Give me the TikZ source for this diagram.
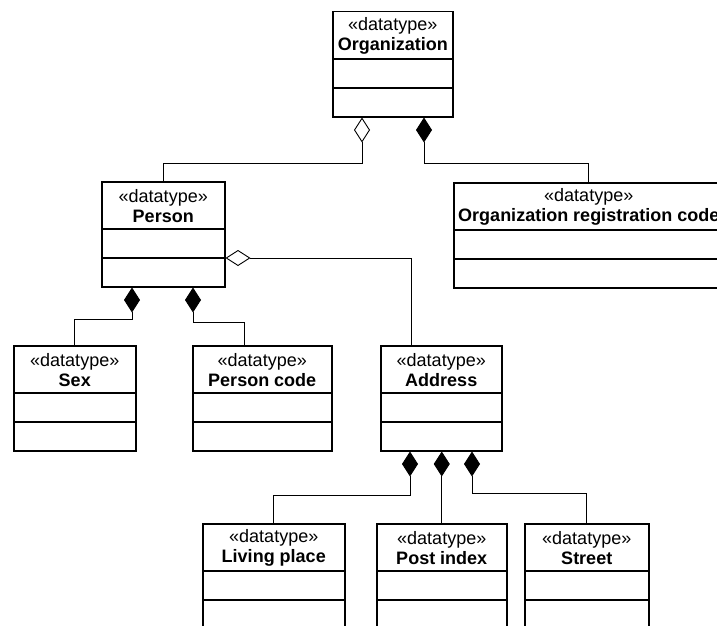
\documentclass[tikz,border=0pt]{standalone}
\usepackage{fontspec}
\setmainfont{Liberation Sans}
\usetikzlibrary{arrows.meta,calc}
\tikzset{
  dtframe/.style={draw=black, line width=1.5pt, fill=white, anchor=north west,
    minimum height=105pt, inner sep=0pt},
  dttitle/.style={align=center, inner sep=0pt, font=\fontsize{18}{20}\selectfont},
  link/.style={draw=black, line width=0.9pt},
  aggr/.style={link, {Diamond[open,length=25pt,width=16pt]}-},
  comp/.style={link, {Diamond[length=25pt,width=16pt]}-},
}
% datatype class box: name, x, y (top left), width, title
\newcommand\dtbox[5]{%
  \node[dtframe, minimum width=#4pt] (#1) at (#2,#3) {};
  \node[dttitle] (#1-title) at ($(#1.north)+(0,25)$) {«datatype»\\\textbf{#5}};
  \draw[line width=1.5pt] ([yshift=-48pt]#1.north west) -- ([yshift=-48pt]#1.north east);
  \draw[line width=1.5pt] ([yshift=-77pt]#1.north west) -- ([yshift=-77pt]#1.north east);
}
\begin{document}
\begin{tikzpicture}[x=1pt,y=-1pt]
  \clip (0,0) rectangle (717,626);
  \useasboundingbox (0,0) rectangle (717,626);
  \fill[white] (0,0) rectangle (717,626);

  \dtbox{org}{332}{11}{120}{Organization}
  \dtbox{orgreg}{453}{182}{270}{Organization registration code}
  \dtbox{person}{101}{181}{123}{Person}
  \dtbox{sex}{13}{345}{122}{Sex}
  \dtbox{pcode}{192}{345}{139}{Person code}
  \dtbox{address}{380}{345}{121}{Address}
  \dtbox{living}{202}{523}{142}{Living place}
  \dtbox{post}{376}{523}{130}{Post index}
  \dtbox{street}{524}{523}{124}{Street}

  % associations
  \draw[aggr] ([xshift=30pt]org.south west) -- ++(0,46) -| (person.north);
  \draw[comp] ([xshift=92pt]org.south west) -- ++(0,46) -| (orgreg.north);
  \draw[aggr] ([yshift=-77pt]person.north east) -| ([xshift=-30pt]address.north);
  \draw[comp] ([xshift=31pt]person.south west) -- ++(0,32) -| (sex.north);
  \draw[comp] ([xshift=92pt]person.south west) -- ++(0,35) -| ([xshift=-18pt]pcode.north);
  \draw[comp] ([xshift=30pt]address.south west) -- ++(0,44) -| (living.north);
  \draw[comp] (address.south -| post.north) -- (post.north);
  \draw[comp] ([xshift=92pt]address.south west) -- ++(0,42) -| (street.north);
\end{tikzpicture}
\end{document}
